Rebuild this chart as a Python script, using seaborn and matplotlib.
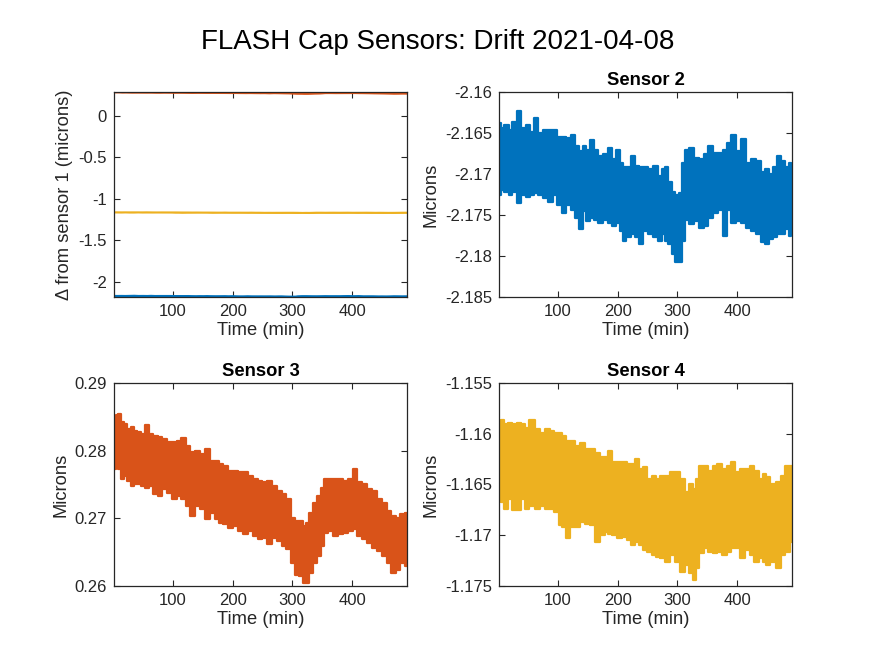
import numpy as np
import pandas as pd
import matplotlib
matplotlib.use("Agg")
import matplotlib.pyplot as plt
import seaborn as sns
from matplotlib.ticker import FixedLocator, FuncFormatter

# ---------------- data ----------------
title = "FLASH Cap Sensors: Drift 2021-04-08"
x_ticks = [100, 200, 300, 400]
x_limits = [1, 492]

# Sensor 2: time (min), upper / lower envelope of the noisy trace (microns)
s2_t = [1, 6, 14, 20, 27, 35, 42, 50, 57, 63, 70, 78, 87, 95, 103, 109, 117, 126,
        131, 139, 144, 151, 157, 162, 171, 179, 187, 193, 200, 206, 211, 218, 225,
        232, 239, 246, 254, 263, 271, 277, 282, 288, 294, 299, 305, 309, 316, 324,
        333, 341, 347, 355, 363, 372, 380, 386, 394, 403, 411, 419, 428, 436, 445,
        450, 457, 464, 470, 478, 484, 489, 492]
s2_hi = [-2.16377, -2.16445, -2.16405, -2.16464, -2.16365, -2.16226, -2.16445, -2.16405,
         -2.16484, -2.16314, -2.16504, -2.16464, -2.16464, -2.16464, -2.16544, -2.16544,
         -2.16564, -2.16524, -2.16663, -2.16722, -2.16663, -2.16702, -2.16583, -2.16702,
         -2.16782, -2.16762, -2.16683, -2.16821, -2.16702, -2.16861, -2.16921, -2.16921,
         -2.16782, -2.16901, -2.16921, -2.16921,
         -2.16941, -2.16901, -2.17020, -2.16941, -2.16921, -2.17099, -2.17218, -2.17258,
         -2.17238, -2.16861, -2.16702, -2.16683, -2.16802, -2.16821, -2.16762, -2.16663,
         -2.16742, -2.16742, -2.16702, -2.16623, -2.16524, -2.16722, -2.16575, -2.16861,
         -2.16821, -2.16841, -2.16980, -2.16941, -2.17000, -2.16921, -2.16782, -2.16841,
         -2.16921, -2.16861, -2.16881]
s2_lo = [-2.17258, -2.17198, -2.17218, -2.17258, -2.17218, -2.17357, -2.17258, -2.17278,
         -2.17258, -2.17238, -2.17258, -2.17298, -2.17337, -2.17258, -2.17377, -2.17476,
         -2.17377, -2.17437, -2.17536, -2.17675, -2.17456, -2.17575, -2.17536, -2.17556,
         -2.17595, -2.17556, -2.17595, -2.17635, -2.17595, -2.17694, -2.17813, -2.17774,
         -2.17734, -2.17774, -2.17853, -2.17694,
         -2.17734, -2.17774, -2.17813, -2.17734, -2.17813, -2.17853, -2.17972, -2.18071,
         -2.18071, -2.17813, -2.17556, -2.17615, -2.17575, -2.17655, -2.17635, -2.17536,
         -2.17476, -2.17437, -2.17754, -2.17437, -2.17595, -2.17575, -2.17595, -2.17655,
         -2.17694, -2.17734, -2.17833, -2.17853, -2.17794, -2.17774, -2.17734, -2.17734,
         -2.17675, -2.17754, -2.17615]

# Sensor 3
s3_t = [1, 6, 10, 15, 21, 26, 32, 36, 43, 49, 56, 63, 71, 78, 85, 93, 102, 110,
        117, 125, 132, 141, 149, 158, 166, 173, 180, 188, 197, 205, 213, 222, 230,
        237, 246, 253, 261, 269, 278, 286, 294, 302, 308, 315, 320, 326, 331, 337,
        345, 350, 356, 364, 373, 381, 389, 398, 405, 412, 420, 429, 437, 445, 454,
        462, 470, 477, 484, 492]
s3_hi = [0.28421, 0.28520, 0.28544, 0.28421, 0.28396, 0.28322, 0.28346, 0.28297, 0.28272,
         0.28247, 0.28381, 0.28247, 0.28223, 0.28198, 0.28173, 0.28124, 0.28124, 0.28148,
         0.28183, 0.28074, 0.27975, 0.28000, 0.27950, 0.28025, 0.27851, 0.27851, 0.27802,
         0.27777, 0.27703, 0.27703, 0.27678, 0.27678, 0.27629, 0.27579, 0.27554, 0.27530,
         0.27554, 0.27480, 0.27406, 0.27356, 0.27282, 0.27010, 0.26960, 0.26960, 0.26886,
         0.26936, 0.27084, 0.27233, 0.27332, 0.27455, 0.27579, 0.27579, 0.27579, 0.27579,
         0.27554, 0.27579, 0.27728, 0.27530, 0.27505, 0.27431, 0.27406, 0.27282, 0.27233,
         0.27109, 0.27035, 0.27010, 0.27059, 0.27084]
s3_lo = [0.27728, 0.27752, 0.27728, 0.27579, 0.27629, 0.27554, 0.27480, 0.27505, 0.27505,
         0.27480, 0.27455, 0.27480, 0.27356, 0.27332, 0.27431, 0.27381, 0.27282, 0.27332,
         0.27282, 0.27183, 0.27035, 0.27183, 0.27134, 0.26985, 0.27084, 0.26985, 0.26936,
         0.26911, 0.26861, 0.26886, 0.26812, 0.26762, 0.26812, 0.26738, 0.26688, 0.26713,
         0.26614, 0.26713, 0.26663, 0.26589, 0.26540, 0.26342, 0.26168, 0.26144, 0.26045,
         0.26045, 0.26193, 0.26342, 0.26441, 0.26589, 0.26787, 0.26812, 0.26738, 0.26762,
         0.26787, 0.26812, 0.26837, 0.26738, 0.26688, 0.26639, 0.26564, 0.26515, 0.26441,
         0.26342, 0.26193, 0.26243, 0.26342, 0.26292]

# Sensor 4
s4_t = [1, 6, 13, 20, 27, 34, 41, 48, 56, 65, 73, 82, 90, 98, 104, 110, 115, 124,
        132, 140, 149, 157, 166, 174, 182, 187, 194, 202, 211, 219, 227, 231, 239,
        244, 253, 261, 267, 275, 283, 292, 300, 309, 317, 323, 328, 334, 340, 348,
        356, 362, 370, 379, 387, 393, 401, 410, 418, 424, 432, 440, 446, 452, 460,
        469, 477, 485, 492]
s4_hi = [-1.15876, -1.15860, -1.15909, -1.15892, -1.15909, -1.15892, -1.15909, -1.15941,
         -1.15866, -1.15958, -1.15990, -1.15958, -1.15974, -1.15990, -1.15990, -1.16023,
         -1.16072, -1.16072, -1.16120, -1.16088, -1.16153, -1.16153, -1.16186, -1.16234,
         -1.16234, -1.16169, -1.16283, -1.16283, -1.16283, -1.16300, -1.16300, -1.16251,
         -1.16348, -1.16332, -1.16446, -1.16414, -1.16446, -1.16414, -1.16414, -1.16381,
         -1.16381, -1.16446, -1.16576, -1.16495, -1.16544, -1.16446, -1.16316, -1.16316,
         -1.16365, -1.16316, -1.16300, -1.16348, -1.16316, -1.16283, -1.16381, -1.16348,
         -1.16348, -1.16316, -1.16365, -1.16446, -1.16397, -1.16430, -1.16495, -1.16479,
         -1.16414, -1.16316, -1.16316]
s4_lo = [-1.16658, -1.16674, -1.16739, -1.16642, -1.16756, -1.16756, -1.16642, -1.16739,
         -1.16707, -1.16739, -1.16707, -1.16739, -1.16739, -1.16772, -1.16902, -1.16918,
         -1.17032, -1.16918, -1.16918, -1.16870, -1.16886, -1.16902, -1.17065, -1.17000,
         -1.16967, -1.16984, -1.17000, -1.17032, -1.17016, -1.17049, -1.17098, -1.17065,
         -1.17098, -1.17146, -1.17163, -1.17195, -1.17212, -1.17228, -1.17260, -1.17195,
         -1.17260, -1.17358, -1.17293, -1.17374, -1.17440, -1.17326, -1.17179, -1.17130,
         -1.17163, -1.17179, -1.17163, -1.17195, -1.17163, -1.17130, -1.17130, -1.17228,
         -1.17146, -1.17195, -1.17260, -1.17228, -1.17260, -1.17293, -1.17260, -1.17326,
         -1.17195, -1.17163, -1.17065]

sensor_names = ["Sensor 2", "Sensor 3", "Sensor 4"]
colors = ["#0072BD", "#D95319", "#EDB120"]

ylims = {"Sensor 2": [-2.185, -2.16], "Sensor 3": [0.26, 0.29], "Sensor 4": [-1.175, -1.155]}
yticks = {"Sensor 2": [-2.185, -2.18, -2.175, -2.17, -2.165, -2.16],
          "Sensor 3": [0.26, 0.27, 0.28, 0.29],
          "Sensor 4": [-1.175, -1.17, -1.165, -1.16, -1.155]}
overview_yticks = [-2, -1.5, -1, -0.5, 0]

series = {
    "Sensor 2": (s2_t, s2_hi, s2_lo),
    "Sensor 3": (s3_t, s3_hi, s3_lo),
    "Sensor 4": (s4_t, s4_hi, s4_lo),
}

# ---------------- style ----------------
sns.set_theme(style="white")
plt.rcParams["font.family"] = ["Liberation Sans", "DejaVu Sans"]
plt.rcParams["axes.unicode_minus"] = False
ink = "#262626"

fig = plt.figure(figsize=(8.75, 6.56), dpi=100)
fig.patch.set_facecolor("white")

positions = {
    "overview": [0.1303, 0.5473, 0.3348, 0.3125],
    "Sensor 2": [0.5703, 0.5473, 0.3348, 0.3125],
    "Sensor 3": [0.1303, 0.1067, 0.3348, 0.3095],
    "Sensor 4": [0.5703, 0.1067, 0.3348, 0.3095],
}

fmt = FuncFormatter(lambda v, p: "{:g}".format(round(v, 6)))


def style_axes(ax):
    for s in ax.spines.values():
        s.set_color(ink)
        s.set_linewidth(0.9)
        s.set_zorder(5)
    ax.tick_params(direction="in", length=4, width=0.8, color=ink, labelcolor=ink,
                   labelsize=12, top=True, right=True, bottom=True, left=True, pad=5)
    ax.set_xlim(x_limits)
    ax.xaxis.set_major_locator(FixedLocator(x_ticks))
    ax.xaxis.set_major_formatter(fmt)
    ax.yaxis.set_major_formatter(fmt)
    ax.set_xlabel("Time (min)", fontsize=13.2, color=ink, labelpad=2)
    ax.grid(False)
    ax.set_facecolor("white")


def draw_band(ax, name, color, lw, stepped):
    t, hi, lo = series[name]
    df = pd.DataFrame({"t": t, "hi": hi, "lo": lo})
    kw = {"drawstyle": "steps-mid"} if stepped else {}
    ax.fill_between(df["t"], df["lo"], df["hi"], color=color, linewidth=0,
                    step="mid" if stepped else None)
    for col in ("hi", "lo"):
        sns.lineplot(data=df, x="t", y=col, ax=ax, color=color, linewidth=lw,
                     solid_joinstyle="round", solid_capstyle="round", **kw)


# overview panel
ax0 = fig.add_axes(positions["overview"])
for name, c in zip(sensor_names, colors):
    draw_band(ax0, name, c, 1.0, False)
style_axes(ax0)
all_vals = s2_hi + s2_lo + s3_hi + s3_lo + s4_hi + s4_lo
ax0.set_ylim(min(all_vals), max(all_vals))
ax0.yaxis.set_major_locator(FixedLocator(overview_yticks))
ax0.set_ylabel("\u0394 from sensor 1 (microns)", fontsize=13.2, color=ink, labelpad=4)

# individual sensors
for name, c in zip(sensor_names, colors):
    ax = fig.add_axes(positions[name])
    draw_band(ax, name, c, 1.6, True)
    style_axes(ax)
    ax.set_ylim(ylims[name])
    ax.yaxis.set_major_locator(FixedLocator(yticks[name]))
    ax.set_ylabel("Microns", fontsize=13.2, color=ink, labelpad=4)
    ax.set_title(name, fontsize=13.2, fontweight="bold", color="black", pad=5)

fig.text(0.5, 0.936, title, ha="center", va="center", fontsize=20, color="black")

fig.savefig("out.png", dpi=100, facecolor="white")
